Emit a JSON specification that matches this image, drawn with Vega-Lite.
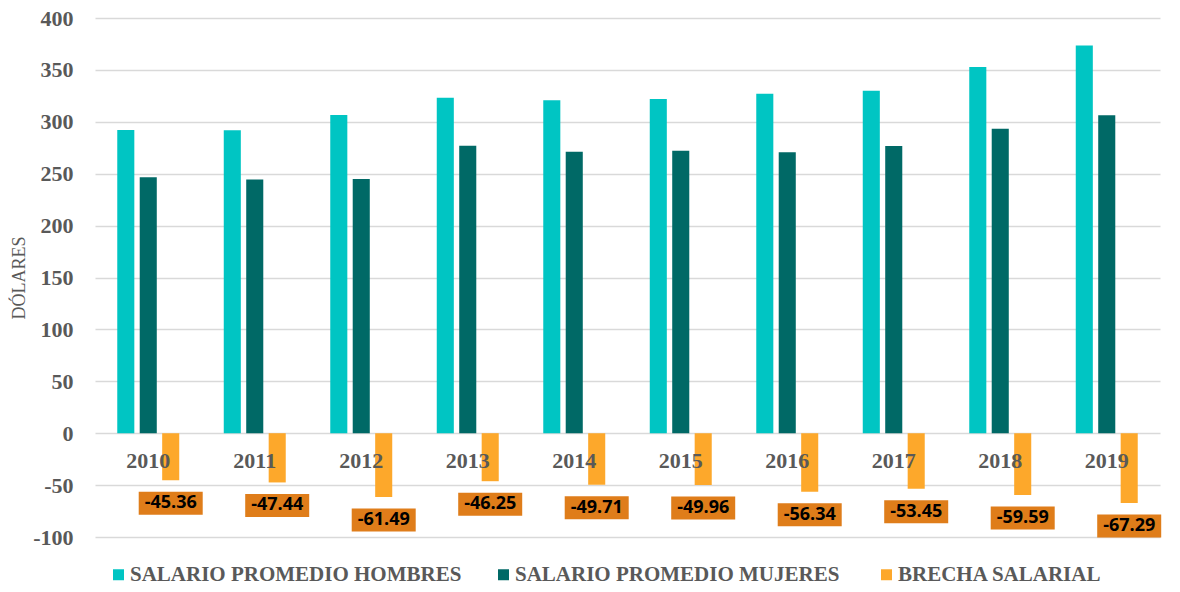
{
  "$schema": "https://vega.github.io/schema/vega-lite/v6.json",
  "width": 1065,
  "height": 519,
  "autosize": {"type": "none"},
  "padding": {"left": 95, "top": 18, "right": 20, "bottom": 55},
  "background": "white",
  "config": {"view": {"stroke": null}, "locale": {"number": {"decimal": ".", "thousands": ",", "grouping": [3], "currency": ["$", ""], "minus": "-"}}},
  "data": {"values": [
    {"year": "2010", "serie": "SALARIO PROMEDIO HOMBRES", "value": 292.0},
    {"year": "2010", "serie": "SALARIO PROMEDIO  MUJERES", "value": 246.6},
    {"year": "2010", "serie": "BRECHA SALARIAL", "value": -45.36},
    {"year": "2011", "serie": "SALARIO PROMEDIO HOMBRES", "value": 291.8},
    {"year": "2011", "serie": "SALARIO PROMEDIO  MUJERES", "value": 244.4},
    {"year": "2011", "serie": "BRECHA SALARIAL", "value": -47.44},
    {"year": "2012", "serie": "SALARIO PROMEDIO HOMBRES", "value": 306.5},
    {"year": "2012", "serie": "SALARIO PROMEDIO  MUJERES", "value": 245.0},
    {"year": "2012", "serie": "BRECHA SALARIAL", "value": -61.49},
    {"year": "2013", "serie": "SALARIO PROMEDIO HOMBRES", "value": 323.1},
    {"year": "2013", "serie": "SALARIO PROMEDIO  MUJERES", "value": 276.9},
    {"year": "2013", "serie": "BRECHA SALARIAL", "value": -46.25},
    {"year": "2014", "serie": "SALARIO PROMEDIO HOMBRES", "value": 320.8},
    {"year": "2014", "serie": "SALARIO PROMEDIO  MUJERES", "value": 271.1},
    {"year": "2014", "serie": "BRECHA SALARIAL", "value": -49.71},
    {"year": "2015", "serie": "SALARIO PROMEDIO HOMBRES", "value": 322.0},
    {"year": "2015", "serie": "SALARIO PROMEDIO  MUJERES", "value": 272.0},
    {"year": "2015", "serie": "BRECHA SALARIAL", "value": -49.96},
    {"year": "2016", "serie": "SALARIO PROMEDIO HOMBRES", "value": 327.0},
    {"year": "2016", "serie": "SALARIO PROMEDIO  MUJERES", "value": 270.7},
    {"year": "2016", "serie": "BRECHA SALARIAL", "value": -56.34},
    {"year": "2017", "serie": "SALARIO PROMEDIO HOMBRES", "value": 330.0},
    {"year": "2017", "serie": "SALARIO PROMEDIO  MUJERES", "value": 276.6},
    {"year": "2017", "serie": "BRECHA SALARIAL", "value": -53.45},
    {"year": "2018", "serie": "SALARIO PROMEDIO HOMBRES", "value": 352.8},
    {"year": "2018", "serie": "SALARIO PROMEDIO  MUJERES", "value": 293.2},
    {"year": "2018", "serie": "BRECHA SALARIAL", "value": -59.59},
    {"year": "2019", "serie": "SALARIO PROMEDIO HOMBRES", "value": 373.5},
    {"year": "2019", "serie": "SALARIO PROMEDIO  MUJERES", "value": 306.2},
    {"year": "2019", "serie": "BRECHA SALARIAL", "value": -67.29}
  ]},
  "encoding": {
    "x": {
      "field": "year", "type": "nominal",
      "scale": {"paddingInner": 0.418, "paddingOuter": 0.209},
      "axis": {
        "title": null, "orient": "bottom", "offset": -104,
        "domain": false, "ticks": false, "labelAngle": 0,
        "labelFont": "Liberation Serif", "labelFontWeight": "bold",
        "labelFontSize": 22, "labelColor": "#595959", "labelPadding": 17,
        "zindex": 1
      }
    },
    "xOffset": {
      "field": "serie", "type": "nominal",
      "scale": {"domain": ["SALARIO PROMEDIO HOMBRES", "SALARIO PROMEDIO  MUJERES", "BRECHA SALARIAL"], "paddingInner": 0.24, "paddingOuter": 0}
    },
    "y": {
      "field": "value", "type": "quantitative",
      "scale": {"domain": [-100, 400], "nice": false},
      "axis": {
        "title": "DÓLARES", "titleFont": "Liberation Serif", "titleFontWeight": "normal",
        "titleFontSize": 18, "titleColor": "#595959", "titlePadding": 4,
        "values": [-100, -50, 0, 50, 100, 150, 200, 250, 300, 350, 400],
        "domain": false, "ticks": false,
        "labelFont": "Liberation Serif", "labelFontWeight": "bold",
        "labelFontSize": 22, "labelColor": "#595959", "labelPadding": 22,
        "gridColor": "#D9D9D9", "gridWidth": 1.5, "zindex": 0
      }
    }
  },
  "layer": [
    {
      "mark": {"type": "bar"},
      "encoding": {
        "color": {
          "field": "serie", "type": "nominal",
          "scale": {
            "domain": ["SALARIO PROMEDIO HOMBRES", "SALARIO PROMEDIO  MUJERES", "BRECHA SALARIAL"],
            "range": ["#00C5C3", "#006966", "#FDA82B"]
          },
          "legend": {
            "title": null, "orient": "none", "legendX": 13, "legendY": 546,
            "direction": "horizontal", "columns": 3, "columnPadding": 31,
            "symbolType": "square", "symbolSize": 121, "symbolStrokeWidth": 0,
            "labelFont": "Liberation Serif", "labelFontWeight": "bold",
            "labelFontSize": 21, "labelColor": "#595959", "labelLimit": 600, "labelOffset": 1
          }
        }
      }
    },
    {
      "transform": [{"filter": "datum.serie === 'BRECHA SALARIAL'"}],
      "mark": {
        "type": "point", "filled": true, "opacity": 1, "yOffset": 23,
        "shape": "M-1,-0.36L1,-0.36L1,0.36L-1,0.36Z",
        "size": 4096, "color": "#DF7D1A", "strokeWidth": 0
      }
    },
    {
      "transform": [{"filter": "datum.serie === 'BRECHA SALARIAL'"}],
      "mark": {
        "type": "text", "dy": 23, "baseline": "middle", "align": "center",
        "font": "Open Sans", "fontWeight": "bold", "fontSize": 18, "color": "#000000"
      },
      "encoding": {"text": {"field": "value", "type": "quantitative", "format": ".2f"}}
    }
  ]
}
